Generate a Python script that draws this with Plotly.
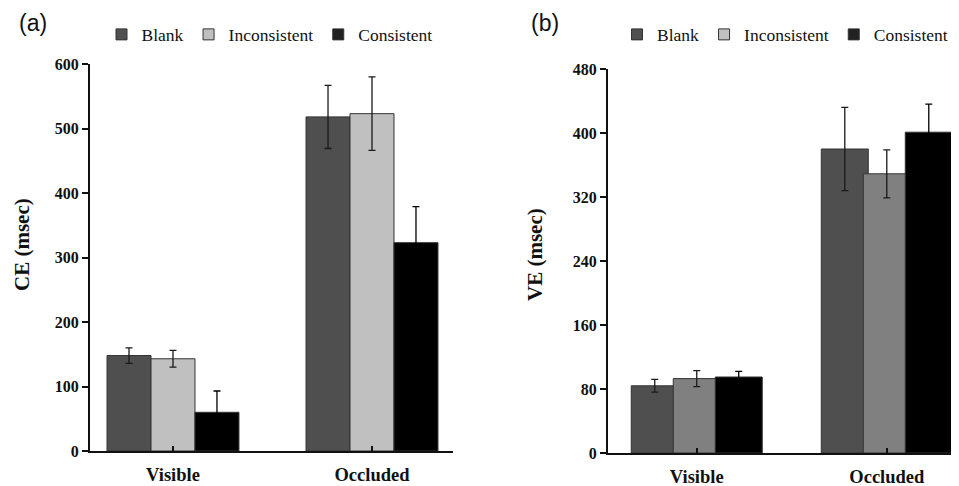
import plotly.graph_objects as go

categories = ["Visible", "Occluded"]
series = ["Blank", "Inconsistent", "Consistent"]

# Panel (a): CE (msec)
ce_blank = [148, 518]
ce_incons = [143, 523]
ce_cons = [60, 323]
ce_blank_err = [12, 49]
ce_incons_err = [13, 57]
ce_cons_err = [33, 56]

# Panel (b): VE (msec)
ve_blank = [84, 380]
ve_incons = [93, 349]
ve_cons = [95, 401]
ve_blank_err = [8, 52]
ve_incons_err = [10, 30]
ve_cons_err = [7, 35]

ce_ticks = [0, 100, 200, 300, 400, 500, 600]
ve_ticks = [0, 80, 160, 240, 320, 400, 480]

colors_a = ["#4f4f4f", "#c0c0c0", "#000000"]
colors_b = ["#4f4f4f", "#808080", "#000000"]
err_colors = ["#1a1a1a", "#1a1a1a", "#000000"]
legend_colors = ["#505050", "#c0c0c0", "#222222"]

SERIF = "Liberation Serif"
SANS = "Liberation Sans"

# page body has an 8px default margin: size the figure to the visible window
OFF = 8
W, H = 959 - OFF, 486 - OFF


def fx(px):
    return (px - OFF) / W


def fy(py):
    return 1 - (py - OFF) / H


fig = go.Figure()


def add_panel(vals, errs, colors, xa, ya, width):
    for name, v, e, c, ec in zip(series, vals, errs, colors, err_colors):
        fig.add_trace(go.Bar(
            x=categories, y=v, name=name, xaxis=xa, yaxis=ya,
            width=width, offsetgroup=name,
            marker=dict(color=c, line=dict(color="#333333", width=1)),
            error_y=dict(type="data", array=e, visible=True, color=ec,
                         thickness=1.3, width=3.5),
            showlegend=False,
        ))


add_panel([ce_blank, ce_incons, ce_cons], [ce_blank_err, ce_incons_err, ce_cons_err],
          colors_a, "x", "y", (1 - 0.337) / 3)
add_panel([ve_blank, ve_incons, ve_cons], [ve_blank_err, ve_incons_err, ve_cons_err],
          colors_b, "x2", "y2", (1 - 0.258) / 3)

for lg, xa, ya in [("legend", "x", "y"), ("legend2", "x2", "y2")]:
    for name, c in zip(series, legend_colors):
        fig.add_trace(go.Scatter(
            x=[None], y=[None], mode="markers", name=name, xaxis=xa, yaxis=ya,
            marker=dict(symbol="square", size=11, color=c,
                        line=dict(color="#333333", width=1)),
            legend=lg, showlegend=True,
        ))

tickfont = dict(family=SERIF, size=16, color="#111111", weight="bold")
xfont = dict(family=SERIF, size=18.5, color="#111111", weight="bold")

common_x = dict(type="category", showline=True, linewidth=2, linecolor="#111111",
                ticks="inside", ticklen=5, tickwidth=1.5, tickcolor="#111111",
                showgrid=False, zeroline=False, tickfont=xfont, ticklabelstandoff=6,
                fixedrange=True)
common_y = dict(showline=True, linewidth=2, linecolor="#111111", ticks="outside",
                ticklen=6, tickwidth=1.5, tickcolor="#111111", showgrid=False,
                zeroline=False, tickfont=tickfont, fixedrange=True)

legend_font = dict(family=SERIF, size=17.5, color="#111111")

fig.update_layout(
    width=W, height=H, autosize=False,
    margin=dict(l=0, r=0, t=0, b=0, autoexpand=False),
    paper_bgcolor="white", plot_bgcolor="white",
    barmode="group",
    bargap=0.337,
    bargroupgap=0,
    xaxis=dict(domain=[fx(90), fx(453)], range=[-0.417, 1.407], anchor="y", **common_x),
    yaxis=dict(domain=[fy(451), fy(64)], range=[0, 600], tickvals=ce_ticks,
               anchor="x", **common_y),
    xaxis2=dict(domain=[fx(608), 1.0], range=[-0.467, 1.38], anchor="y2", **common_x),
    yaxis2=dict(domain=[fy(453), fy(69)], range=[0, 480], tickvals=ve_ticks,
                anchor="x2", **common_y),
    legend=dict(orientation="h", x=fx(122.5 - 21), xanchor="left",
                y=fy(34.5), yanchor="middle", bgcolor="rgba(0,0,0,0)",
                font=legend_font),
    legend2=dict(orientation="h", x=fx(638 - 21), xanchor="left",
                 y=fy(34.5), yanchor="middle", bgcolor="rgba(0,0,0,0)",
                 font=legend_font),
    annotations=[
        dict(text="(a)", x=fx(33), y=fy(22.5), xref="paper", yref="paper",
             xanchor="center", yanchor="middle", showarrow=False,
             font=dict(family=SANS, size=23, color="#111111")),
        dict(text="(b)", x=fx(544.5), y=fy(23), xref="paper", yref="paper",
             xanchor="center", yanchor="middle", showarrow=False,
             font=dict(family=SANS, size=23, color="#111111")),
        dict(text="CE (msec)", x=fx(22), y=fy(245), xref="paper", yref="paper",
             xanchor="center", yanchor="middle", showarrow=False, textangle=-90,
             font=dict(family=SERIF, size=21, color="#111111", weight="bold")),
        dict(text="VE (msec)", x=fx(535), y=fy(255), xref="paper", yref="paper",
             xanchor="center", yanchor="middle", showarrow=False, textangle=-90,
             font=dict(family=SERIF, size=21, color="#111111", weight="bold")),
    ],
)

fig.write_html("out.html")
